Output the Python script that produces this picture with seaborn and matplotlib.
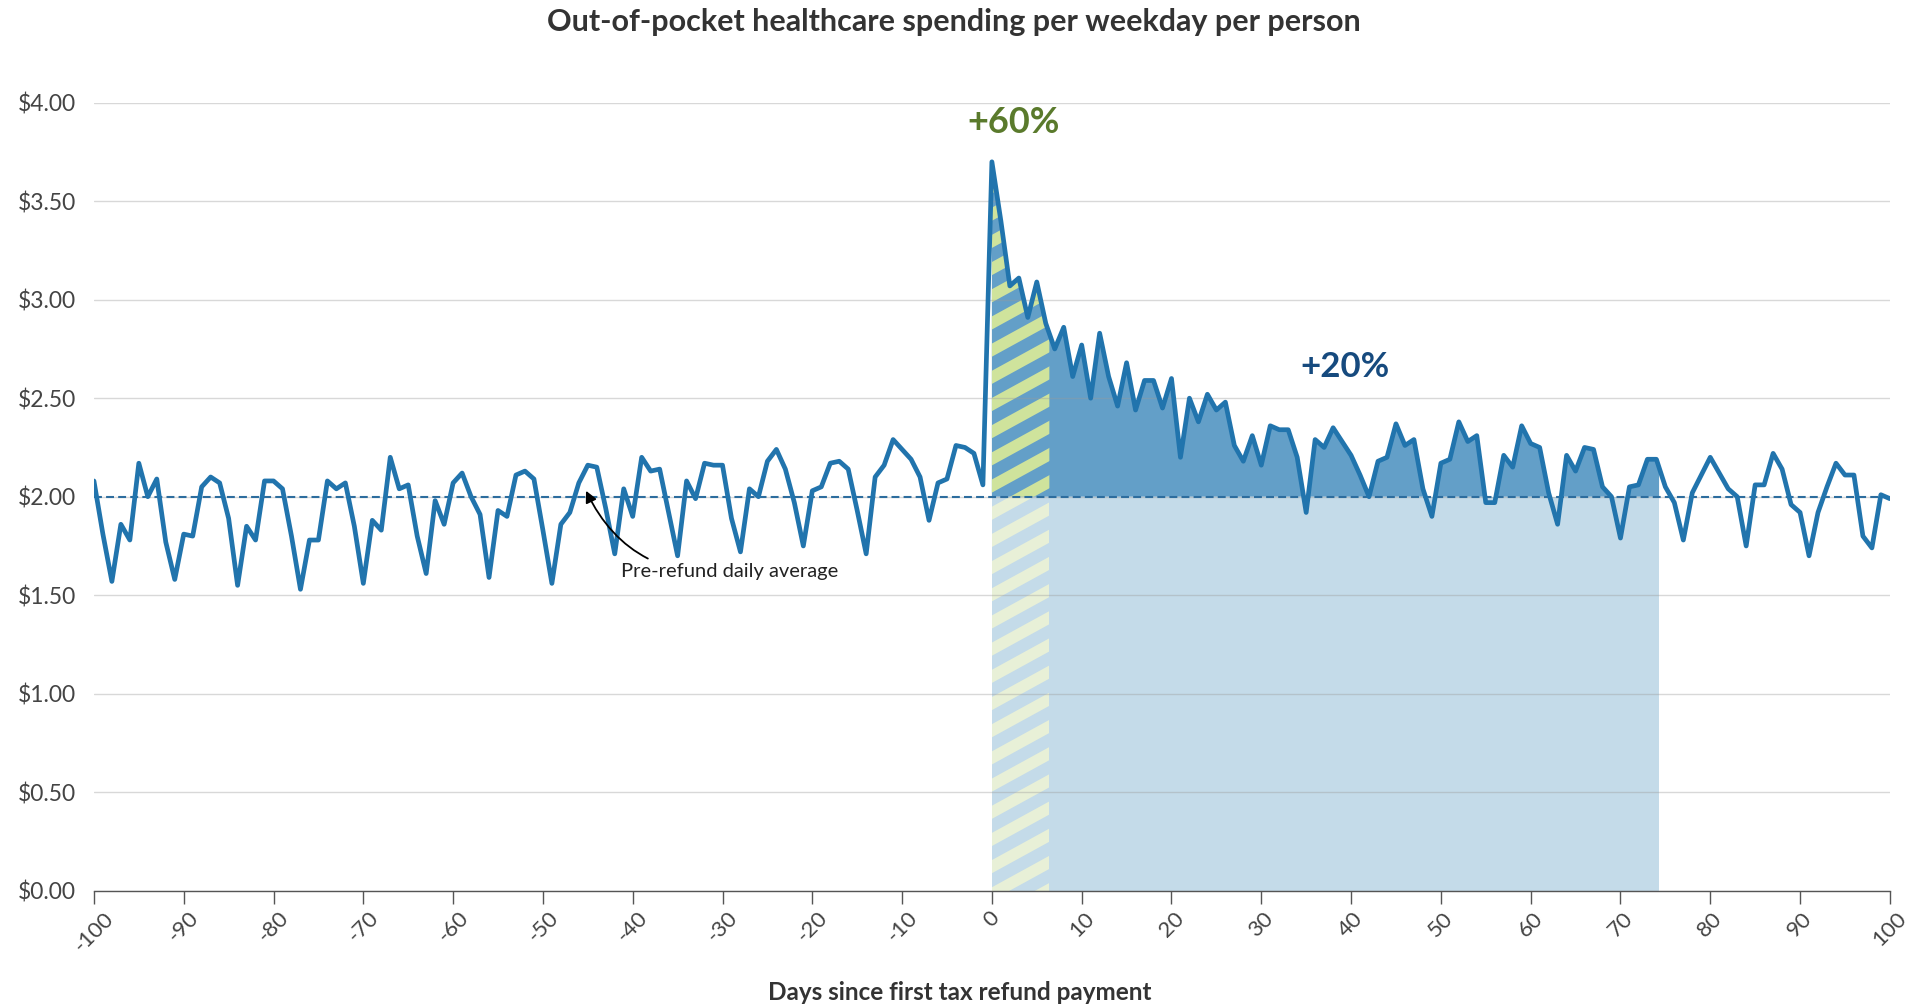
import numpy as np
import matplotlib
matplotlib.use("Agg")
import matplotlib.pyplot as plt
import seaborn as sns
from matplotlib.collections import LineCollection
from matplotlib.patches import Rectangle
from matplotlib.ticker import FuncFormatter

# ---- data -------------------------------------------------------------
days = list(range(-100, 101))

spend_pre = [
    2.08, 1.81, 1.57, 1.86, 1.78, 2.17, 2.00, 2.09, 1.77, 1.58,
    1.81, 1.80, 2.05, 2.10, 2.07, 1.89, 1.55, 1.85, 1.78, 2.08,
    2.08, 2.04, 1.80, 1.53, 1.78, 1.78, 2.08, 2.04, 2.07, 1.85,
    1.56, 1.88, 1.83, 2.20, 2.04, 2.06, 1.80, 1.61, 1.98, 1.86,
    2.07, 2.12, 2.00, 1.91, 1.59, 1.93, 1.90, 2.11, 2.13, 2.09,
    1.83, 1.56, 1.86, 1.92, 2.07, 2.16, 2.15, 1.94, 1.71, 2.04,
    1.90, 2.20, 2.13, 2.14, 1.92, 1.70, 2.08, 1.99, 2.17, 2.16,
    2.16, 1.89, 1.72, 2.04, 2.00, 2.18, 2.24, 2.14, 1.97, 1.75,
    2.03, 2.05, 2.17, 2.18, 2.14, 1.93, 1.71, 2.10, 2.16, 2.29,
    2.24, 2.19, 2.10, 1.88, 2.07, 2.09, 2.26, 2.25, 2.22, 2.06,
]
spend_post = [
    3.70, 3.40, 3.07, 3.11, 2.91, 3.09, 2.88, 2.75, 2.86, 2.61,
    2.77, 2.50, 2.83, 2.61, 2.46, 2.68, 2.44, 2.59, 2.59, 2.45,
    2.60, 2.20, 2.50, 2.38, 2.52, 2.44, 2.48, 2.26, 2.18, 2.31,
    2.16, 2.36, 2.34, 2.34, 2.20, 1.92, 2.29, 2.25, 2.35, 2.28,
    2.21, 2.11, 2.00, 2.18, 2.20, 2.37, 2.26, 2.29, 2.04, 1.90,
    2.17, 2.19, 2.38, 2.28, 2.31, 1.97, 1.97, 2.21, 2.15, 2.36,
    2.27, 2.25, 2.02, 1.86, 2.21, 2.13, 2.25, 2.24, 2.05, 2.00,
    1.79, 2.05, 2.06, 2.19, 2.19, 2.05, 1.97, 1.78, 2.02, 2.11,
    2.20, 2.12, 2.04, 2.00, 1.75, 2.06, 2.06, 2.22, 2.14, 1.96,
    1.92, 1.70, 1.92, 2.05, 2.17, 2.11, 2.11, 1.80, 1.74, 2.01,
    1.99,
]
spending = spend_pre + spend_post

baseline = 2.00          # pre-refund daily average
spike_end = 6.4          # end of the initial spike window (days)
effect_end = 74.3        # end of the elevated-spending window (days)

y_ticks = [0.0, 0.5, 1.0, 1.5, 2.0, 2.5, 3.0, 3.5, 4.0]
x_ticks = list(range(-100, 101, 10))

title = "Out-of-pocket healthcare spending per weekday per person"
x_label = "Days since first tax refund payment"
spike_label = "+60%"
effect_label = "+20%"
note_label = "Pre-refund daily average"

# ---- colours ----------------------------------------------------------
LINE = "#2174ad"
MID_FILL = "#639fc8"
LIGHT_FILL = "#c4dbe9"
GREEN_STRIPE = "#cfe39c"
PALE_STRIPE = "#e8f0d7"
DASH = "#2d6d9e"
GREEN_TXT = "#5a7a2c"
NAVY_TXT = "#164a7e"
TEXT = "#444444"

# ---- style ------------------------------------------------------------
sns.set_theme(style="white")
plt.rcParams["font.family"] = ["Lato", "DejaVu Sans"]
plt.rcParams["axes.unicode_minus"] = False
NARROW = ["Liberation Sans Narrow", "Lato", "DejaVu Sans"]

fig = plt.figure(figsize=(19.13, 10.07), dpi=100)
ax = fig.add_axes([0.0491, 0.1155, 0.9388, 0.7825])

x = np.asarray(days, dtype=float)
y = np.asarray(spending, dtype=float)

# fine grid so the shaded windows end exactly at their boundaries
xs = np.linspace(0, effect_end, 2000)
ys = np.interp(xs, x, y)
xs_spike = np.linspace(0, spike_end, 400)
ys_spike = np.interp(xs_spike, x, y)

# light band below the baseline across the elevated window
ax.fill_between([0, effect_end], 0, baseline, color=LIGHT_FILL, lw=0, zorder=1)
# excess spending above the baseline
ax.fill_between(xs, baseline, ys, where=ys > baseline, interpolate=True,
                color=MID_FILL, lw=0, zorder=1.1)

# clip shapes for the striped spike window
spike_up = ax.fill_between(xs_spike, baseline, ys_spike, facecolor="none",
                           lw=0, zorder=0)
spike_low = Rectangle((0, 0), spike_end, baseline, transform=ax.transData,
                      facecolor="none", lw=0)


def stripes(color, clip_path=None, clip_patch=None):
    period = 0.0345
    slope = 1.25
    offsets = np.arange(-slope - period, 1 + period, period)
    segs = [[(0, c), (1, c + slope)] for c in offsets]
    lc = LineCollection(segs, colors=color, linewidths=8.3,
                        transform=ax.transAxes, zorder=1.5)
    ax.add_collection(lc, autolim=False)
    if clip_patch is not None:
        lc.set_clip_path(clip_patch)
    else:
        lc.set_clip_path(clip_path, ax.transData)
    return lc


stripes(GREEN_STRIPE, clip_path=spike_up.get_paths()[0])
stripes(PALE_STRIPE, clip_patch=spike_low)

# daily spending line
sns.lineplot(x=x, y=y, color=LINE, lw=3.4, ax=ax, zorder=4)

# pre-refund baseline
ax.axhline(baseline, color=DASH, lw=1.5, dashes=(3.8, 2.0), zorder=3)

# ---- axes -------------------------------------------------------------
ax.set_xlim(-100, 100)
ax.set_ylim(0, 4)
ax.set_yticks(y_ticks)
ax.set_xticks(x_ticks)
ax.yaxis.set_major_formatter(FuncFormatter(lambda v, _: f"${v:.2f}"))
ax.grid(axis="y", color="#9a9a9a", alpha=0.38, lw=1.0)
ax.grid(axis="x", visible=False)
ax.set_axisbelow(False)
for s in ("top", "right", "left"):
    ax.spines[s].set_visible(False)
ax.spines["bottom"].set_color("#555555")
ax.spines["bottom"].set_linewidth(1.0)
ax.spines["bottom"].set_zorder(5)
ax.tick_params(axis="x", direction="out", length=9.5, width=1.0,
               color="#555555", labelsize=16, labelcolor=TEXT, pad=3,
               bottom=True)
ax.tick_params(axis="y", length=0, labelsize=16.5, labelcolor=TEXT, pad=13)
for lbl in ax.get_xticklabels():
    lbl.set_rotation(45)
    lbl.set_ha("center")
    lbl.set_va("top")
ax.set_xlabel("")
ax.set_ylabel("")

# ---- annotations -------------------------------------------------------
ax.text(2.4, 3.90, spike_label, color=GREEN_TXT, fontsize=26,
        fontweight="bold", ha="center", va="center", clip_on=False)
ax.text(39.3, 2.66, effect_label, color=NAVY_TXT, fontsize=25,
        fontweight="bold", ha="center", va="center")
ax.annotate(note_label, xy=(-45.2, 2.03), xytext=(-41.3, 1.62),
            ha="left", va="center", fontsize=14.5, color="#222222",
            arrowprops=dict(arrowstyle="-|>", color="black", lw=1.3,
                            mutation_scale=17, shrinkA=2, shrinkB=0,
                            connectionstyle="arc3,rad=-0.35"),
            zorder=6)

fig.text(0.4988, 1 - 22 / 1007, title, ha="center", va="center",
         fontsize=22, fontweight="bold", color="#333333", family=NARROW)
fig.text(0.5016, 1 - 992 / 1007, x_label, ha="center", va="center",
         fontsize=17.5, fontweight="bold", color="#333333", family=NARROW)

fig.savefig("out.png", dpi=100)
